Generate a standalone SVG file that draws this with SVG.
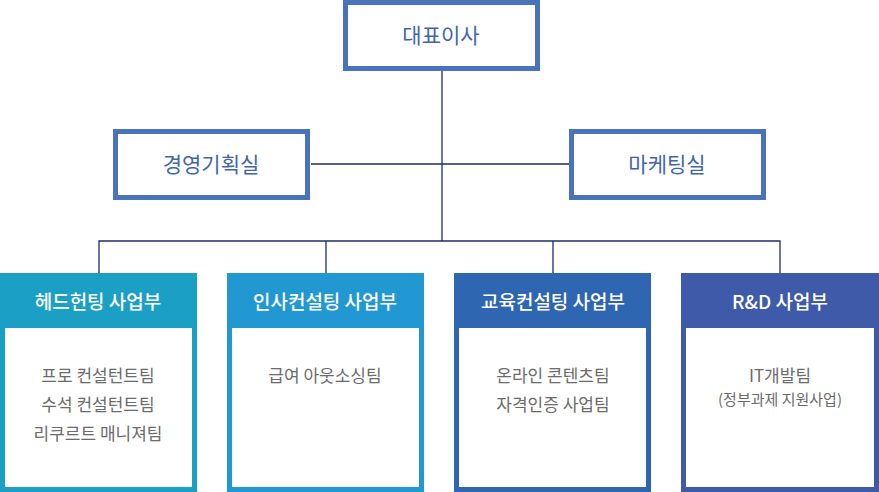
<svg xmlns="http://www.w3.org/2000/svg" width="879" height="492" viewBox="0 0 879 492">
<style>
text{font-family:"Noto Sans CJK KR","Noto Sans",sans-serif;text-anchor:middle}
.top{fill:#fff;stroke:#4a74ba;stroke-width:5}
.tt{fill:#3f66ad;font-size:21px}
.ht{fill:#fff;font-size:19px;font-weight:500}
.bt{fill:#6b6b6b;font-size:17px}
.st{fill:#6b6b6b;font-size:15px}
.ln{stroke:#1e2d6b;stroke-width:1.3;fill:none}
</style>
<rect width="879" height="492" fill="#fff"/>
<g id="connectors">
<path class="ln" d="M442 70V241M311 164H569M99 273V241H780V273M326 241V273M553 241V273"/>
</g>
<g id="ceo"><rect class="top" x="345.5" y="2.5" width="192" height="66"/><text class="tt" x="441" y="43">대표이사</text></g>
<g id="planning"><rect class="top" x="115.5" y="131.5" width="192" height="66"/><text class="tt" x="211" y="172">경영기획실</text></g>
<g id="marketing"><rect class="top" x="571.5" y="131.5" width="192" height="66"/><text class="tt" x="667" y="172">마케팅실</text></g>
<g id="headhunting"><rect x="0" y="273" width="197" height="219" fill="#1b9fc4"/><rect x="5" y="328" width="187" height="159" fill="#fff"/><text class="ht" x="98" y="309">헤드헌팅 사업부</text><text class="bt" x="98" y="382">프로 컨설턴트팀</text><text class="bt" x="98" y="411">수석 컨설턴트팀</text><text class="bt" x="98" y="440">리쿠르트 매니져팀</text></g>
<g id="hr"><rect x="227" y="273" width="197" height="219" fill="#2298d2"/><rect x="232" y="328" width="187" height="159" fill="#fff"/><text class="ht" x="325" y="309">인사컨설팅 사업부</text><text class="bt" x="325" y="382">급여 아웃소싱팀</text></g>
<g id="edu"><rect x="454" y="273" width="197" height="219" fill="#2f66b2"/><rect x="459" y="328" width="187" height="159" fill="#fff"/><text class="ht" x="553" y="309">교육컨설팅 사업부</text><text class="bt" x="553" y="382">온라인 콘텐츠팀</text><text class="bt" x="553" y="411">자격인증 사업팀</text></g>
<g id="rnd"><rect x="681" y="273" width="198" height="219" fill="#3f5aa8"/><rect x="686" y="328" width="188" height="159" fill="#fff"/><text class="ht" x="780" y="309">R&amp;D 사업부</text><text class="bt" x="780" y="382">IT개발팀</text><text class="st" x="780" y="405">(정부과제 지원사업)</text></g>
</svg>
